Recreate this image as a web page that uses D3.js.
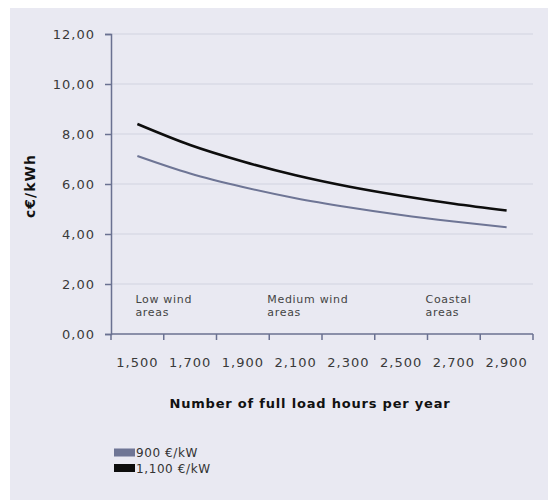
<!DOCTYPE html>
<html>
<head>
<meta charset="utf-8">
<script src="https://cdn.jsdelivr.net/npm/d3@7"></script>
<style>
  html, body { margin: 0; padding: 0; background: #ffffff; }
  svg { display: block; }
</style>
</head>
<body>
<svg id="chart" width="548" height="500"></svg>
<script>
// ---- data ----
const categories = [1500, 1700, 1900, 2100, 2300, 2500, 2700, 2900];
const seriesNames = ["900 €/kW", "1,100 €/kW"];
const values900 = [7.12, 6.42, 5.88, 5.43, 5.07, 4.76, 4.50, 4.27];
const values1100 = [8.40, 7.56, 6.90, 6.35, 5.90, 5.53, 5.21, 4.94];
const yTicks = [0, 2, 4, 6, 8, 10, 12];
// annotation anchored at a category; "center" = band centre, "start" = band start
const annotations = [
  { cat: 1500, at: "center", lines: ["Low wind", "areas"] },
  { cat: 2100, at: "start", lines: ["Medium wind", "areas"] },
  { cat: 2700, at: "start", lines: ["Coastal", "areas"] }
];
const xTitle = "Number of full load hours per year";
const yTitle = "c€/kWh";

// ---- layout ----
const svg = d3.select("#chart");
const colors = ["#6e7595", "#0d0d0d"];
const axisColor = "#6a7191";
const panel = { x: 10, y: 8, w: 538, h: 492 };
const plot = { left: 111, right: 533, top: 34, bottom: 334 };

svg.append("rect")
  .attr("x", panel.x).attr("y", panel.y)
  .attr("width", panel.w).attr("height", panel.h)
  .attr("fill", "#e9e9f2");

const x = d3.scaleBand().domain(categories).range([plot.left, plot.right]).padding(0);
const y = d3.scaleLinear().domain([0, 12]).range([plot.bottom, plot.top]);

const fmtY = d => d.toFixed(2).replace(".", ",");
const fmtX = d => d3.format(",")(d);

// gridlines
svg.append("g").selectAll("line")
  .data(yTicks.filter(d => d > 0))
  .join("line")
  .attr("x1", plot.left).attr("x2", plot.right)
  .attr("y1", d => y(d)).attr("y2", d => y(d))
  .attr("stroke", "#d2d3df").attr("stroke-width", 1.2);

// y axis
const yAxis = svg.append("g")
  .attr("transform", `translate(${plot.left},0)`)
  .call(d3.axisLeft(y).tickValues(yTicks).tickFormat(fmtY).tickSize(6).tickPadding(10));
yAxis.select(".domain").attr("stroke", axisColor).attr("stroke-width", 1.5);
yAxis.selectAll(".tick line").attr("stroke", axisColor).attr("stroke-width", 1.5);
yAxis.selectAll(".tick text")
  .attr("fill", "#3a3a3a")
  .style("font-family", "DejaVu Sans")
  .style("font-size", "13px")
  .style("letter-spacing", "1px");

// x axis (ticks at band boundaries, labels at band centers)
const xAxisG = svg.append("g").attr("transform", `translate(0,${plot.bottom})`);
xAxisG.append("line")
  .attr("x1", plot.left).attr("x2", plot.right)
  .attr("y1", 0).attr("y2", 0)
  .attr("stroke", axisColor).attr("stroke-width", 1.5);
const boundaries = categories.map(c => x(c)).concat([x(categories[categories.length - 1]) + x.bandwidth()]);
xAxisG.selectAll("line.tk")
  .data(boundaries)
  .join("line")
  .attr("class", "tk")
  .attr("x1", d => d).attr("x2", d => d)
  .attr("y1", 0).attr("y2", 6)
  .attr("stroke", axisColor).attr("stroke-width", 1.5);
xAxisG.selectAll("text")
  .data(categories)
  .join("text")
  .attr("x", d => x(d) + x.bandwidth() / 2)
  .attr("y", 33)
  .attr("text-anchor", "middle")
  .attr("fill", "#3a3a3a")
  .style("font-family", "DejaVu Sans")
  .style("font-size", "13px")
  .style("letter-spacing", "1px")
  .text(fmtX);

// annotations
const annG = svg.append("g");
annotations.forEach(a => {
  const ax = (a.at === "center" ? x(a.cat) + x.bandwidth() / 2 : x(a.cat)) - 2;
  const t = annG.append("text")
    .attr("x", ax)
    .attr("y", 303)
    .attr("fill", "#444")
    .style("font-family", "DejaVu Sans")
    .style("font-size", "11px")
    .style("letter-spacing", "0.7px");
  a.lines.forEach((ln, i) => {
    t.append("tspan")
      .attr("x", ax)
      .attr("dy", i === 0 ? 0 : 12.5)
      .text(ln);
  });
});

// lines
const line = d3.line()
  .x((d, i) => x(categories[i]) + x.bandwidth() / 2)
  .y(d => y(d))
  .curve(d3.curveMonotoneX);
[values900, values1100].forEach((vals, k) => {
  svg.append("path")
    .datum(vals)
    .attr("d", line)
    .attr("fill", "none")
    .attr("stroke", colors[k])
    .attr("stroke-width", k === 0 ? 2 : 2.5);
});

// axis titles
svg.append("text")
  .attr("x", 310).attr("y", 408)
  .attr("text-anchor", "middle")
  .attr("fill", "#111")
  .style("font-family", "DejaVu Sans")
  .style("font-weight", "bold")
  .style("font-size", "13px")
  .style("letter-spacing", "0.8px")
  .text(xTitle);

svg.append("text")
  .attr("transform", "translate(35,186) rotate(-90)")
  .attr("text-anchor", "middle")
  .attr("fill", "#111")
  .style("font-family", "DejaVu Sans")
  .style("font-weight", "bold")
  .style("font-size", "14px")
  .style("letter-spacing", "1px")
  .text(yTitle);

// legend
const legend = svg.append("g");
seriesNames.forEach((name, i) => {
  const ly = 452.5 + i * 15.5;
  legend.append("rect")
    .attr("x", 114).attr("y", ly - 4)
    .attr("width", 21).attr("height", 8)
    .attr("fill", colors[i]);
  legend.append("text")
    .attr("x", 136).attr("y", ly + 4.5)
    .attr("fill", "#333")
    .style("font-family", "DejaVu Sans")
    .style("font-size", "12px")
    .style("letter-spacing", "0.6px")
    .text(name);
});
</script>
</body>
</html>
